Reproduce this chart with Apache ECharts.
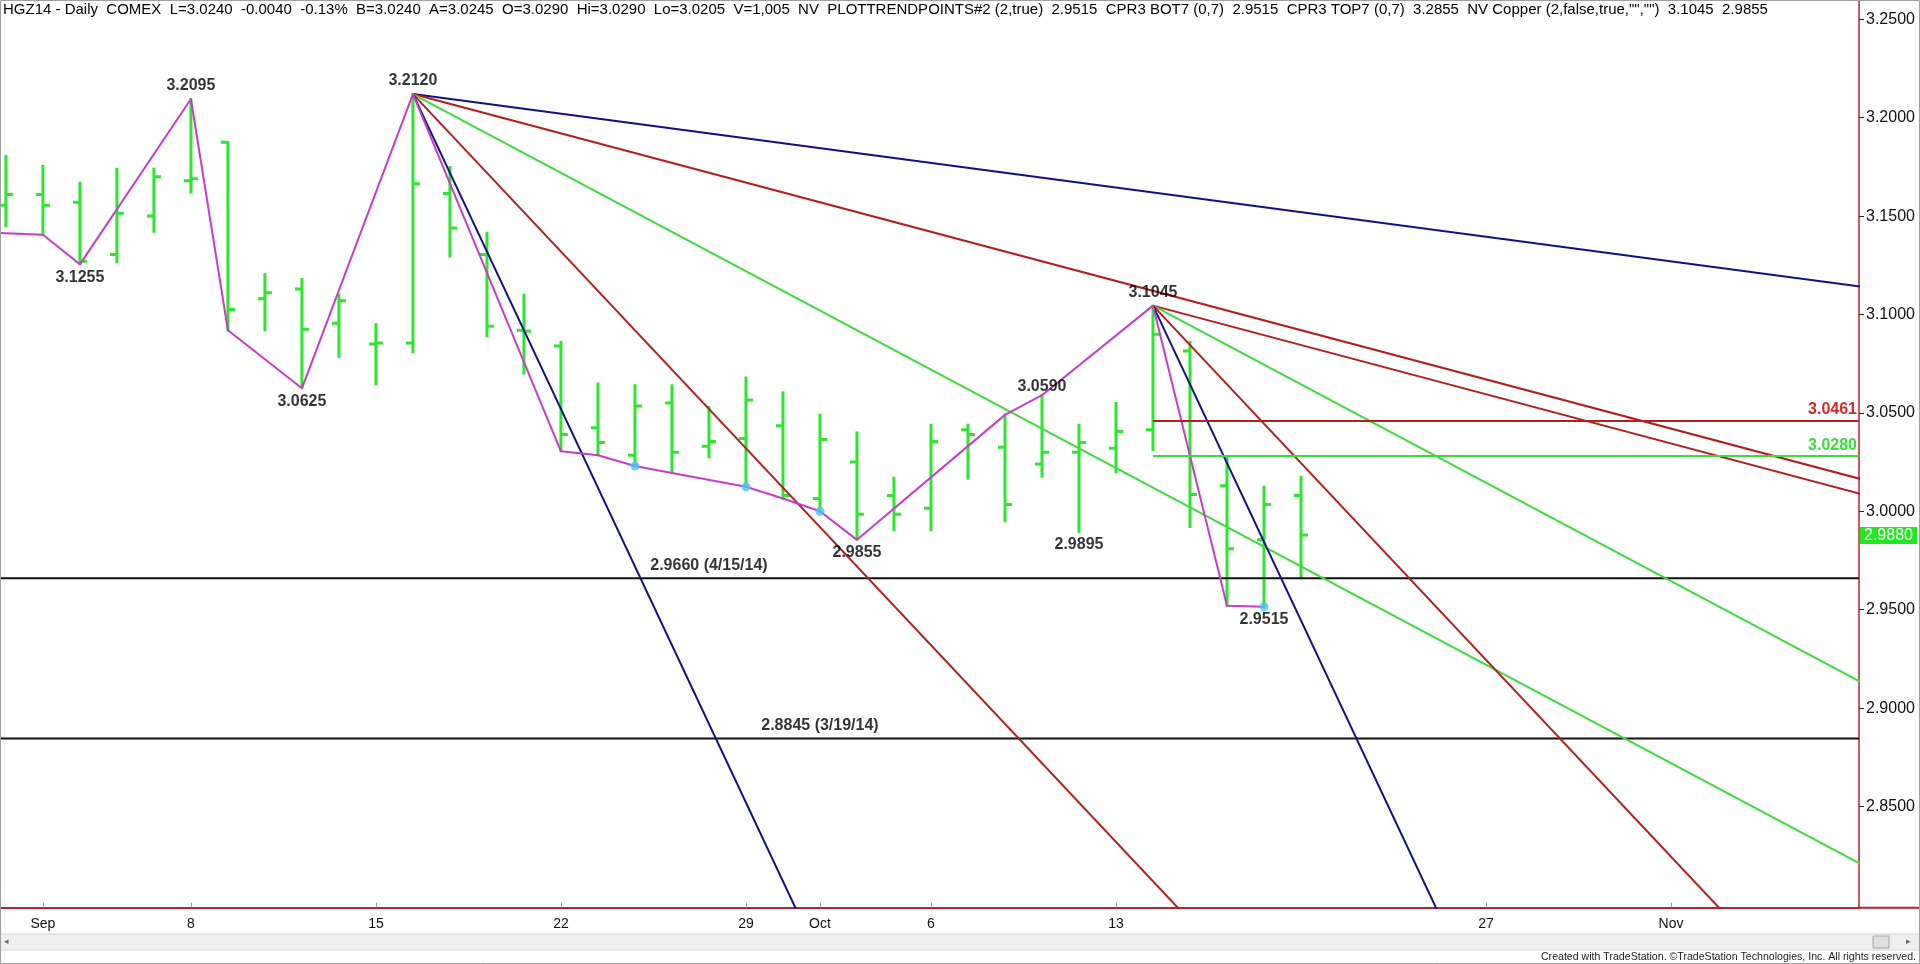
<!DOCTYPE html>
<html><head><meta charset="utf-8">
<script src="https://cdn.jsdelivr.net/npm/echarts@6/dist/echarts.min.js"></script>
<style>html,body{margin:0;padding:0;background:#fff;overflow:hidden}#c{width:1920px;height:964px}</style>
</head><body><div id="c"></div>
<script>
// ---------- DATA ----------
const axisDates = ['08-28','08-29','09-02','09-03','09-04','09-05','09-08','09-09','09-10','09-11','09-12',
  '09-15','09-16','09-17','09-18','09-19','09-22','09-23','09-24','09-25','09-26','09-29','09-30',
  '10-01','10-02','10-03','10-06','10-07','10-08','10-09','10-10','10-13','10-14','10-15','10-16','10-17',
  '10-20','10-21','10-22','10-23','10-24','10-27','10-28','10-29','10-30','10-31','11-03','11-04','11-05',
  '11-06','11-07','11-10','11-11','11-12'];
const barDates = ['08-29','09-02','09-03','09-04','09-05','09-08','09-09','09-10','09-11','09-12','09-15',
  '09-16','09-17','09-18','09-19','09-22','09-23','09-24','09-25','09-26','09-29','09-30','10-01','10-02',
  '10-03','10-06','10-07','10-08','10-09','10-10','10-13','10-14','10-15','10-16','10-17','10-20'];
const opens  = [3.1555,3.1610,3.1570,3.1305,3.1500,3.1680,3.1875,3.1080,3.1130,3.0955,3.0850,
  3.0855,3.1615,3.1305,3.0920,3.0840,3.0425,3.0285,3.0550,3.0330,3.0370,3.0435,3.0065,3.0250,
  3.0080,3.0015,3.0415,3.0325,3.0240,3.0300,3.0320,3.0415,3.0815,3.0130,2.9855,3.0080];
const highs  = [3.1805,3.1755,3.1670,3.1740,3.1740,3.2095,3.1875,3.1205,3.1180,3.1100,3.0950,
  3.2120,3.1750,3.1415,3.1100,3.0860,3.0650,3.0640,3.0640,3.0530,3.0680,3.0605,3.0490,3.0400,
  3.0170,3.0440,3.0440,3.0490,3.0590,3.0440,3.0550,3.1045,3.0860,3.0275,3.0125,3.0175];
const lows   = [3.1450,3.1405,3.1255,3.1265,3.1420,3.1620,3.0920,3.0920,3.0625,3.0785,3.0645,
  3.0810,3.1295,3.0890,3.0700,3.0305,3.0285,3.0230,3.0195,3.0275,3.0125,3.0065,3.0000,2.9855,
  2.9905,2.9905,3.0165,2.9950,3.0175,2.9895,3.0200,3.0310,2.9920,2.9520,2.9515,2.9660];
const closes = [3.1610,3.1555,3.1270,3.1515,3.1700,3.1690,3.1025,3.1110,3.0925,3.1070,3.0855,
  3.1665,3.1440,3.0940,3.0915,3.0390,3.0350,3.0535,3.0300,3.0355,3.0565,3.0080,3.0365,2.9985,
  2.9985,3.0355,3.0390,3.0035,3.0300,3.0350,3.0405,3.0900,3.0085,2.9810,3.0035,2.9880];

const tickDates = ['09-02','09-08','09-15','09-22','09-29','10-01','10-06','10-13','10-27','11-03'];
const tickTexts = ['Sep','8','15','22','29','Oct','6','13','27','Nov'];
const priceTicks = [2.85,2.90,2.95,3.00,3.05,3.10,3.15,3.20,3.25];

const pivotDates  = ['08-28','09-02','09-03','09-08','09-09','09-11','09-16','09-22','09-23','09-24',
  '09-25','09-29','09-30','10-01','10-02','10-08','10-09','10-14','10-16','10-17'];
const pivotPrices = [3.1420,3.1405,3.1255,3.2095,3.0920,3.0625,3.2120,3.0305,3.0285,3.0230,
  3.0195,3.0125,3.0065,3.0000,2.9855,3.0490,3.0590,3.1045,2.9520,2.9515];

const dotDates  = ['09-24','09-29','10-01','10-17'];
const dotPrices = [3.0230,3.0125,3.0000,2.9515];

const swingDates  = ['09-03','09-08','09-11','09-16','10-02','10-09','10-10','10-14','10-17'];
const swingPrices = [3.1255,3.2095,3.0625,3.2120,2.9855,3.0590,2.9895,3.1045,2.9515];
const swingSides  = ['bottom','top','bottom','top','bottom','top','bottom','top','bottom'];

const fanOriginDates  = ['09-16','10-14'];
const fanOriginPrices = [3.2120,3.1045];
const fanSlopes = [[0.0025,0.005,0.01,0.02,0.04],[0.005,0.01,0.02,0.04]];

const levelPrices = [2.9660,2.8845];
const levelTexts  = ['2.9660 (4/15/14)','2.8845 (3/19/14)'];
const levelLabelDates = ['09-26','10-01'];

const zoneStartDate = '10-14';
const zonePrices = [3.0461,3.0280];

const headerParts = [
  ['HGZ14 - Daily  COMEX  ','g'],['L=3.0240  -0.0040  -0.13%  ','r'],['B=3.0240  A=3.0245  ','k'],
  ['O=3.0290  ','r'],['Hi=3.0290  Lo=3.0205  V=1,005  NV  PLOTTRENDPOINTS#2 (2,true)  ','k'],
  ['2.9515  ','m'],['CPR3 BOT7 (0,7)  ','k'],['2.9515  ','c'],['CPR3 TOP7 (0,7)  ','k'],
  ['3.2855  ','m'],['NV Copper (2,false,true,"","")  ','k'],['3.1045  ','r'],['2.9855','b']];
const footerText = 'Created with TradeStation. ©TradeStation Technologies, Inc. All rights reserved.';

// ---------- LAYOUT / STYLE ----------
const FONT = 'Liberation Sans, Arial, sans-serif';
const BAR = '#2ee62e';
const AXIS_RED = '#b3262e';
const NAVY = '#10108a', DRED = '#b41e1e', LGREEN = '#3cdc3c';
const fanColors = [[NAVY,DRED,LGREEN,DRED,NAVY],[DRED,LGREEN,DRED,NAVY]];
const zoneColors = [DRED, LGREEN];
const zoneTextColors = ['#d22a2a', LGREEN];
const swingGap = [5,5,5,5,5,1,5,5,5];
const HEADER_FONT = 15;
const X_MIN = 0.8405, X_MAX = 51.08, Y_MIN = 2.79858, Y_MAX = 3.2593;
const idx = d => axisDates.indexOf(d);
const tickIdx = tickDates.map(idx);

const chart = echarts.init(document.getElementById('c'), null, {renderer:'canvas'});
const series = [];

series.push({
  type:'custom', name:'bars', clip:true, z:2,
  data: barDates.map((d,i)=>[idx(d),opens[i],highs[i],lows[i],closes[i]]),
  encode:{x:0,y:[1,2,3,4]},
  renderItem(params, api){
    const x = api.value(0);
    const o = api.coord([x, api.value(1)]), h = api.coord([x, api.value(2)]);
    const l = api.coord([x, api.value(3)]), c = api.coord([x, api.value(4)]);
    const st = {stroke:BAR, lineWidth:3};
    return {type:'group', children:[
      {type:'line', shape:{x1:h[0],y1:h[1]-1,x2:l[0],y2:l[1]+1}, style:st},
      {type:'line', shape:{x1:o[0]-7,y1:o[1],x2:o[0],y2:o[1]}, style:st},
      {type:'line', shape:{x1:c[0],y1:c[1],x2:c[0]+7,y2:c[1]}, style:st}
    ]};
  }
});

// black support levels
levelPrices.forEach(p=>{
  series.push({type:'line', clip:true, z:3, symbol:'none', silent:true,
    lineStyle:{color:'#111', width:2}, data:[[X_MIN,p],[X_MAX,p]]});
});

// fan lines
const lastIdx = axisDates.length-1;
fanOriginDates.forEach((d,k)=>{
  const i0 = idx(d), p0 = fanOriginPrices[k];
  fanSlopes[k].forEach((s,j)=>{
    series.push({type:'line', clip:true, z:3, symbol:'none', silent:true,
      lineStyle:{color:fanColors[k][j], width:2},
      data:[[i0,p0],[lastIdx, p0 - s*(lastIdx-i0)]]});
  });
});

// zone lines from Oct 14 (markLine with end label)
series.push({type:'line', data:[], z:3, silent:true,
  markLine:{symbol:'none', silent:true, animation:false,
    data: zonePrices.map((p,k)=>[
      {coord:[idx(zoneStartDate),p], lineStyle:{color:zoneColors[k],width:2,type:'solid'},
        label:{show:true, position:'insideEndTop', formatter:p.toFixed(4), color:zoneTextColors[k],
          fontFamily:FONT, fontWeight:'bold', fontSize:16, distance:[2,3]}},
      {coord:[X_MAX,p]}
    ])}
});

// magenta pivot line
series.push({type:'line', clip:true, z:4, symbol:'none', silent:true,
  lineStyle:{color:'#c83cc8', width:2},
  data: pivotDates.map((d,i)=>[idx(d),pivotPrices[i]])});

// cyan dots
series.push({type:'scatter', z:5, symbolSize:9, itemStyle:{color:'#4cc4f2'}, silent:true,
  data: dotDates.map((d,i)=>[idx(d),dotPrices[i]])});

// swing labels
series.push({type:'scatter', z:6, symbolSize:0, silent:true,
  data: swingDates.map((d,i)=>({value:[idx(d),swingPrices[i]],
    label:{show:true, position:swingSides[i], distance:swingGap[i], formatter:swingPrices[i].toFixed(4),
      color:'#000', fontFamily:FONT, fontWeight:'bold', fontSize:16}}))});

// level labels
series.push({type:'scatter', z:6, symbolSize:0, silent:true,
  data: levelPrices.map((p,i)=>({value:[idx(levelLabelDates[i]),p],
    label:{show:true, position:'top', distance:5, formatter:levelTexts[i],
      color:'#000', fontFamily:FONT, fontWeight:'bold', fontSize:16}}))});

const colorOf = {g:'#22c822', r:'#cc2020', k:'#111', m:'#cc33cc', c:'#33cccc', b:'#1a1a99'};
const rich = {};
Object.keys(colorOf).forEach(k=>{rich[k]={color:colorOf[k], fontFamily:FONT, fontSize:HEADER_FONT};});
const headerText = headerParts.map(([t,s])=>'{'+s+'|'+t+'}').join('');

chart.setOption({
  animation:false,
  backgroundColor:'#fff',
  grid:{left:0, right:61, top:1, bottom:56.3, containLabel:false},
  xAxis:{type:'value', min:X_MIN, max:X_MAX,
    axisLine:{show:true, onZero:false, lineStyle:{color:AXIS_RED, width:2}},
    axisTick:{show:true, inside:true, length:5, customValues:tickIdx, lineStyle:{color:'#9a9a9a'}},
    axisLabel:{show:true, customValues:tickIdx, margin:9, color:'#111', fontFamily:FONT, fontSize:14,
      formatter:v=>{const k=tickIdx.indexOf(Math.round(v)); return k>=0?tickTexts[k]:'';}},
    splitLine:{show:false}},
  yAxis:{type:'value', position:'right', min:Y_MIN, max:Y_MAX, scale:true,
    axisLine:{show:true, onZero:false, lineStyle:{color:AXIS_RED, width:1.5}},
    axisTick:{show:true, length:5, customValues:priceTicks, lineStyle:{color:'#222'}},
    axisLabel:{show:true, customValues:priceTicks, margin:7, color:'#111', fontFamily:FONT, fontSize:16,
      formatter:v=>v.toFixed(4)},
    splitLine:{show:false}},
  series
});

// graphic overlays that depend on scales
const lastClose = closes[closes.length-1];
const yLast = chart.convertToPixel({yAxisIndex:0}, lastClose);
const yAxisX = chart.convertToPixel({xAxisIndex:0}, X_MAX);
const xAxisY = chart.convertToPixel({yAxisIndex:0}, Y_MIN);
chart.setOption({graphic:[
  {type:'text', x:3, y:10, z:100, style:{text:headerText, rich, fontFamily:FONT, fontSize:HEADER_FONT, verticalAlign:'middle'}},
  {type:'rect', shape:{x:yAxisX+1, y:yLast-8, width:57, height:17}, style:{fill:'#22e622'}, z:50},
  {type:'text', x:yAxisX+5, y:yLast+0.5, z:51, style:{text:lastClose.toFixed(4), fill:'#fff', fontFamily:FONT, fontSize:16, verticalAlign:'middle'}},
  {type:'line', shape:{x1:yAxisX, y1:xAxisY, x2:1920, y2:xAxisY}, style:{stroke:AXIS_RED, lineWidth:2}, z:50},
  {type:'rect', shape:{x:0, y:934, width:1920, height:16}, style:{fill:'#efefef', stroke:'#d4d4d4', lineWidth:1}, z:40},
  {type:'rect', shape:{x:1873, y:936, width:16, height:12}, style:{fill:'#dedede', stroke:'#a8a8a8', lineWidth:1}, z:41},
  {type:'text', x:4, y:942, z:42, style:{text:'◂', fill:'#666', fontSize:9, verticalAlign:'middle'}},
  {type:'text', x:1906, y:942, z:42, style:{text:'▸', fill:'#666', fontSize:9, verticalAlign:'middle'}},
  {type:'text', right:4, top:952, z:42, style:{text:footerText, fill:'#222', fontFamily:FONT, fontSize:10.6}},
  {type:'rect', shape:{x:0.5, y:0.5, width:1919, height:963}, style:{fill:'none', stroke:'#a0a0a0', lineWidth:1}, z:60, silent:true}
]});
</script></body></html>
